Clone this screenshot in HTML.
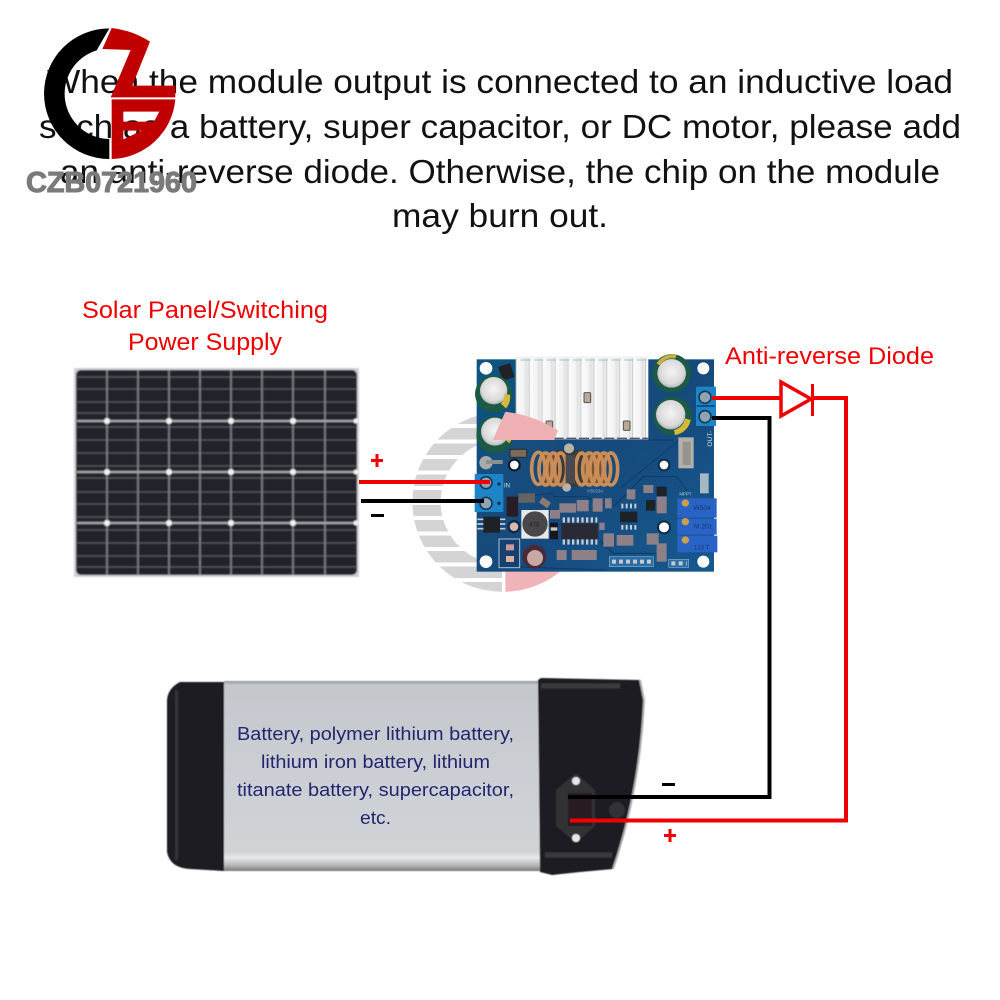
<!DOCTYPE html>
<html>
<head>
<meta charset="utf-8">
<style>
html,body{margin:0;padding:0;background:#fff}
svg{display:block}
text{font-family:"Liberation Sans",sans-serif}
</style>
</head>
<body>
<svg width="1000" height="1000" viewBox="0 0 1000 1000" xmlns="http://www.w3.org/2000/svg">
<defs>
  <filter id="b1" x="-5%" y="-5%" width="110%" height="110%"><feGaussianBlur stdDeviation="0.7"/></filter>
  <filter id="b2" x="-5%" y="-5%" width="110%" height="110%"><feGaussianBlur stdDeviation="0.45"/></filter>
  <linearGradient id="silver" x1="0" y1="0" x2="0" y2="1">
    <stop offset="0" stop-color="#8f9294"/><stop offset=".02" stop-color="#c4c8cd"/>
    <stop offset=".5" stop-color="#cbcfd4"/><stop offset=".9" stop-color="#d0d3d6"/>
    <stop offset=".93" stop-color="#e8e9ea"/><stop offset=".97" stop-color="#b5b7b9"/><stop offset="1" stop-color="#77797b"/>
  </linearGradient>
  <linearGradient id="fin" x1="0" y1="0" x2="1" y2="0">
    <stop offset="0" stop-color="#fbfbfb"/><stop offset=".55" stop-color="#f3f3f4"/>
    <stop offset=".72" stop-color="#e0e1e2"/><stop offset=".9" stop-color="#ebecec"/><stop offset="1" stop-color="#b4b6b8"/>
  </linearGradient>
  <pattern id="fins" x="350" y="0" width="38.8" height="10" patternUnits="userSpaceOnUse">
    <rect width="38.8" height="10" fill="url(#fin)"/>
  </pattern>
  <linearGradient id="pcb" x1="0" y1="0" x2="1" y2="1">
    <stop offset="0" stop-color="#0d5580"/><stop offset=".5" stop-color="#164a7c"/><stop offset="1" stop-color="#13598f"/>
  </linearGradient>
  <radialGradient id="cap" cx=".5" cy=".45" r=".6">
    <stop offset="0" stop-color="#f4f4f4"/><stop offset=".7" stop-color="#d9d9d9"/><stop offset="1" stop-color="#a8a8a8"/>
  </radialGradient>
  <clipPath id="pinkclip"><rect x="484" y="405" width="110" height="35"/></clipPath>
</defs>

<!-- Heading -->
<g font-size="33" fill="#111" text-anchor="start">
  <text x="47" y="93" textLength="906" lengthAdjust="spacingAndGlyphs">When the module output is connected to an inductive load</text>
  <text x="39" y="138" textLength="922" lengthAdjust="spacingAndGlyphs">such as a battery, super capacitor, or DC motor, please add</text>
  <text x="60" y="183" textLength="880" lengthAdjust="spacingAndGlyphs">an anti-reverse diode. Otherwise, the chip on the module</text>
  <text x="392" y="227" textLength="216" lengthAdjust="spacingAndGlyphs">may burn out.</text>
</g>

<!-- Logo -->
<g transform="scale(.33333)">
  <path d="M328 85A196 196 0 0 0 328 477L328 417A136 136 0 0 1 290 151Z" fill="#000"/>
  <path d="M335 84Q395 90 450 125L397 257L526 257L526 292L332 292L392 150L307 147Z" fill="#c00000"/>
  <path fill-rule="evenodd" d="M335 298L526 298A196 196 0 0 1 335 477ZM370 335L478 335L462 365L370 365ZM370 392L425 392L370 418Z" fill="#c00000"/>
</g>
<text x="26" y="192" font-size="29" font-weight="bold" fill="#7a7a7a" stroke="#7a7a7a" stroke-width="1" textLength="171" lengthAdjust="spacing">CZB0721960</text>

<!-- Labels -->
<g font-size="24" fill="#f00000">
  <text x="82" y="318" textLength="246" lengthAdjust="spacingAndGlyphs">Solar Panel/Switching</text>
  <text x="128" y="350" textLength="154" lengthAdjust="spacingAndGlyphs">Power Supply</text>
  <text x="725" y="364" textLength="209" lengthAdjust="spacingAndGlyphs">Anti-reverse Diode</text>
</g>

<!-- Solar panel -->
<g filter="url(#b1)">
  <rect x="74" y="368" width="285" height="209" fill="#cfcfd2"/>
  <rect x="76" y="370" width="281" height="205" rx="5" fill="#20202a"/>
  <g stroke="#5e5e66" stroke-width="1" fill="none">
    <path d="M77 377H356M77 389H356M77 402H356M77 413H356M77 427H356M77 440H356M77 453H356M77 466H356M77 478H356M77 492H356M77 504H356M77 517H356M77 530H356M77 543H356M77 556H356M77 567H356"/>
  </g>
  <g stroke="#85858b" stroke-width="1.6" fill="none">
    <path d="M107 370V575M138 370V575M169 370V575M200 370V575M231 370V575M262 370V575M293 370V575M325 370V575"/>
    <path d="M77 421H356M77 472H356M77 523H356" stroke="#a8a8ad" stroke-width="2"/>
  </g>
  <g fill="#f2f2f2">
    <circle cx="107" cy="421" r="3"/><circle cx="169" cy="421" r="3"/><circle cx="231" cy="421" r="3"/><circle cx="293" cy="421" r="3"/><circle cx="356" cy="421" r="2.5"/>
    <circle cx="107" cy="472" r="3"/><circle cx="169" cy="472" r="3"/><circle cx="231" cy="472" r="3"/><circle cx="293" cy="472" r="3"/><circle cx="356" cy="472" r="2.5"/>
    <circle cx="107" cy="523" r="3"/><circle cx="169" cy="523" r="3"/><circle cx="231" cy="523" r="3"/><circle cx="293" cy="523" r="3"/><circle cx="356" cy="523" r="2.5"/>
  </g>
</g>

<!-- Watermark behind board -->
<g transform="translate(351.9 373.3) scale(.458)">
  <path d="M328 85A196 196 0 0 0 328 477L328 417A136 136 0 0 1 290 151Z" fill="#d4d4d4"/>
</g>
<g stroke="#fff" stroke-width="4">
  <path d="M400 426H505M400 441.500H505M400 457H505M400 472.500H505M400 488H505M400 503H505M400 518H505M400 533.500H505M400 549H505M400 564.500H505M400 580H505"/>
</g>
<g transform="translate(351.9 373.3) scale(.458)" fill="#f0b4b8">
  <path d="M335 84Q395 90 450 125L397 257L526 257L526 292L332 292L392 150L307 147Z"/>
  <path fill-rule="evenodd" d="M335 298L526 298A196 196 0 0 1 335 477ZM370 335L478 335L462 365L370 365ZM370 392L425 392L370 418Z"/>
</g>

<!-- Board drawn in zoom coordinates -->
<g transform="translate(400 340) scale(.33333)" filter="url(#b2)">
  <rect x="230" y="58" width="712" height="637" fill="url(#pcb)"/>
  <g stroke="#0c3a66" stroke-width="3" fill="none">
    <path d="M660 445L850 290M745 300L820 300M640 500L730 410L830 410L860 450M600 600L640 640L780 640M460 470L560 470L620 500"/>
    <path d="M320 520L350 470L460 460M330 680L620 690"/>
  </g>
  <!-- holes -->
  <circle cx="258" cy="85" r="19" fill="#fff"/><circle cx="910" cy="85" r="18" fill="#fff"/>
  <circle cx="258" cy="665" r="19" fill="#fff"/><circle cx="910" cy="665" r="18" fill="#fff"/>
  <circle cx="343" cy="375" r="19" fill="#101522"/><circle cx="343" cy="375" r="13" fill="#fff"/>
  <circle cx="792" cy="375" r="19" fill="#102a4a"/><circle cx="792" cy="375" r="13" fill="#fff"/>
  <circle cx="792" cy="562" r="21" fill="#102a4a"/><circle cx="792" cy="562" r="15" fill="#fff"/>
  <!-- heatsink -->
  <rect x="347" y="50" width="398" height="248" fill="url(#fins)"/>
  <rect x="347" y="50" width="398" height="5" fill="#eef0f2"/>
  <path d="M362 60H392M402 60H430M440 60H468M478 60H508M518 60H546M556 60H585M595 60H624M634 60H662M672 60H700M710 60H740" stroke="#a4c0cd" stroke-width="3"/>
  <path d="M347 295H745" stroke="#55585e" stroke-width="4" stroke-dasharray="30 8"/>
  <g fill="#b8a89a" stroke="#5a5048" stroke-width="3">
    <rect x="552" y="158" width="20" height="30" rx="3"/><rect x="438" y="243" width="20" height="28" rx="3"/><rect x="670" y="243" width="20" height="28" rx="3"/>
  </g>
  <!-- small diode top-left -->
  <rect x="300" y="74" width="38" height="44" fill="#222428" transform="rotate(-18 319 96)"/>
  <!-- capacitors -->
  <circle cx="281" cy="162" r="56" fill="#1b5a46"/><circle cx="281" cy="152" r="41" fill="url(#cap)"/>
  <path d="M330 165A52 52 0 0 1 318 205L302 190A35 35 0 0 0 313 160Z" fill="#d8b83a"/>
  <circle cx="285" cy="285" r="56" fill="#1b5a46"/><circle cx="285" cy="275" r="42" fill="url(#cap)"/>
  <path d="M336 268A52 52 0 0 1 328 310L312 295A35 35 0 0 0 320 262Z" fill="#d8b83a"/>
  <circle cx="815" cy="100" r="58" fill="#1b5a46"/><circle cx="815" cy="100" r="43" fill="url(#cap)"/>
  <path d="M770 70A55 55 0 0 1 830 44L826 56A42 42 0 0 0 780 76Z" fill="#c8b040"/>
  <circle cx="818" cy="228" r="58" fill="#1b5a46"/><circle cx="812" cy="224" r="44" fill="url(#cap)"/>
  <path d="M872 240A56 56 0 0 1 825 285L822 270A42 42 0 0 0 855 235Z" fill="#d8b83a"/>
  <!-- output terminal -->
  <rect x="888" y="140" width="60" height="118" fill="#1f85c7"/>
  <rect x="890" y="195" width="54" height="6" fill="#0e4f86"/>
  <circle cx="915" cy="172" r="18" fill="#8fa3b0" stroke="#123a5a" stroke-width="5"/>
  <circle cx="915" cy="230" r="18" fill="#8fa3b0" stroke="#123a5a" stroke-width="5"/>
  <text x="0" y="0" font-size="20" fill="#cfe0ee" transform="translate(936 320) rotate(-90)">OUT-</text>
  <!-- silver part -->
  <rect x="835" y="292" width="46" height="93" fill="#b3b0aa"/><rect x="848" y="305" width="24" height="70" fill="#95938e"/>
  <!-- pad + bolt left -->
  <rect x="330" y="328" width="50" height="24" fill="#7b6a58" stroke="#2a2a30" stroke-width="3"/>
  <circle cx="258" cy="368" r="20" fill="#a8aaa8"/><rect x="258" y="360" width="50" height="12" fill="#8d8f8d"/>
  <!-- inductor -->
  <rect x="430" y="345" width="190" height="85" fill="#7a5230"/>
  <rect x="470" y="330" width="80" height="110" fill="#3a3a3e"/>
  <circle cx="507" cy="325" r="15" fill="#b8b4aa"/><circle cx="500" cy="442" r="13" fill="#b8b4aa"/>
  <g fill="none" stroke="#c98d58" stroke-width="11">
    <ellipse cx="415" cy="385" rx="20" ry="48"/><ellipse cx="437" cy="387" rx="20" ry="48"/><ellipse cx="460" cy="387" rx="20" ry="48"/><ellipse cx="482" cy="387" rx="18" ry="48"/>
    <ellipse cx="545" cy="387" rx="18" ry="48"/><ellipse cx="568" cy="387" rx="20" ry="48"/><ellipse cx="590" cy="387" rx="20" ry="48"/><ellipse cx="612" cy="387" rx="20" ry="48"/><ellipse cx="633" cy="387" rx="20" ry="48"/>
  </g>
  <rect x="497" y="345" width="28" height="85" fill="#4a4a50"/>
  <!-- input terminal -->
  <rect x="224" y="402" width="86" height="114" fill="#1f85c7"/>
  <circle cx="258" cy="428" r="18" fill="#8fa3b0" stroke="#123a5a" stroke-width="5"/>
  <circle cx="258" cy="490" r="18" fill="#8fa3b0" stroke="#123a5a" stroke-width="5"/>
  <circle cx="297" cy="432" r="5" fill="#0a2a4a"/><circle cx="297" cy="490" r="5" fill="#0a2a4a"/>
  <text x="312" y="442" font-size="18" fill="#dbe6ef" font-family="Liberation Serif">IN</text>
  <!-- left lower parts -->
  <rect x="320" y="470" width="34" height="60" fill="#2a1d28"/>
  <rect x="355" y="460" width="50" height="28" fill="#7a6a5e" opacity=".8"/>
  <rect x="420" y="478" width="30" height="20" fill="#8a7a70" transform="rotate(35 435 488)"/>
  <rect x="250" y="530" width="50" height="48" fill="#1c2026"/>
  <path d="M232 538H250M232 552H250M232 566H250M300 538H316M300 552H316M300 566H316" stroke="#c8c8c8" stroke-width="5"/>
  <circle cx="342" cy="560" r="20" fill="#102a4a"/><circle cx="342" cy="560" r="13" fill="#d9b8b0"/>
  <rect x="297" y="597" width="62" height="86" fill="#143f70" stroke="#a9c3d8" stroke-width="3"/>
  <rect x="318" y="613" width="24" height="18" fill="#c99"/><rect x="318" y="648" width="24" height="18" fill="#d8b0a0"/>
  <!-- power inductor -->
  <rect x="364" y="510" width="82" height="86" fill="#e8e8e8"/>
  <circle cx="405" cy="552" r="38" fill="#4a4648"/>
  <text x="388" y="560" font-size="18" fill="#222">470</text>
  <circle cx="403" cy="650" r="36" fill="#4a2b3c"/><circle cx="405" cy="654" r="24" fill="#c9a8a4"/>
  <rect x="450" y="548" width="24" height="50" fill="#15181f"/><rect x="452" y="562" width="20" height="10" fill="#c9c9c9"/>
  <!-- misc SMD -->
  <g fill="#8d8088">
    <rect x="450" y="510" width="30" height="26"/><rect x="478" y="490" width="50" height="28"/><rect x="530" y="480" width="36" height="34"/>
    <rect x="578" y="475" width="30" height="40"/><rect x="615" y="475" width="20" height="30"/><rect x="680" y="448" width="26" height="30"/>
    <rect x="730" y="435" width="30" height="24"/><rect x="770" y="470" width="30" height="50"/><rect x="610" y="580" width="32" height="40"/>
    <rect x="650" y="585" width="50" height="32"/><rect x="740" y="580" width="36" height="34"/><rect x="770" y="610" width="30" height="55"/>
    <rect x="470" y="630" width="30" height="30"/><rect x="515" y="630" width="75" height="30"/><rect x="598" y="548" width="16" height="22"/>
  </g>
  <!-- main ICs -->
  <rect x="484" y="550" width="110" height="48" fill="#2b2c34"/>
  <path d="M488 540H592M488 606H592" stroke="#c9c9d0" stroke-width="16" stroke-dasharray="7 7"/>
  <rect x="660" y="515" width="52" height="32" fill="#1d2028"/>
  <path d="M664 498H712M664 562H712" stroke="#c9c9d0" stroke-width="14" stroke-dasharray="6 7"/>
  <rect x="738" y="480" width="28" height="32" fill="#1d2028"/>
  <rect x="770" y="440" width="30" height="28" fill="#1d2028"/>
  <rect x="900" y="400" width="26" height="60" fill="#a6b8c4"/>
  <text x="838" y="467" font-size="13" fill="#bcd0e0">MPPT</text>
  <text x="560" y="458" font-size="13" fill="#99b0c8">YI5033A</text>
  <!-- trimmers -->
  <rect x="832" y="475" width="118" height="58" fill="#2c63c6"/>
  <rect x="832" y="536" width="118" height="48" fill="#2c63c6"/>
  <rect x="832" y="587" width="120" height="50" fill="#2c63c6"/>
  <circle cx="856" cy="489" r="11" fill="#c9a050"/><circle cx="856" cy="545" r="11" fill="#c9a050"/><circle cx="856" cy="600" r="11" fill="#c9a050"/>
  <text x="880" y="510" font-size="20" fill="#16356f">W504</text>
  <text x="882" y="566" font-size="20" fill="#16356f">M 201</text>
  <text x="882" y="628" font-size="18" fill="#16356f">123 T</text>
  <!-- header -->
  <rect x="628" y="650" width="132" height="30" fill="#2a6ea8" stroke="#88aac8" stroke-width="2"/>
  <path d="M636 665H754" stroke="#c9c9c9" stroke-width="12" stroke-dasharray="12 9"/>
  <rect x="806" y="658" width="60" height="24" fill="#2a6ea8" stroke="#88aac8" stroke-width="2"/>
  <path d="M814 670H860" stroke="#c9c9c9" stroke-width="12" stroke-dasharray="12 10"/>
</g>

<!-- Watermark pink overlay across heatsink only -->
<g clip-path="url(#pinkclip)">
  <g transform="translate(351.9 373.3) scale(.458)" style="mix-blend-mode:multiply" fill="#eeb0b4">
    <path d="M335 84Q395 90 450 125L397 257L526 257L526 292L332 292L392 150L307 147Z"/>
  </g>
</g>

<!-- Battery -->
<g filter="url(#b2)">
  <path d="M224 682L180 682Q168 688 167 700L167 852Q170 868 190 869L224 871Z" fill="#1d1e21"/>
  <rect x="175" y="690" width="3" height="170" fill="#333437"/>
  <rect x="224" y="681" width="316" height="190" fill="url(#silver)"/>
  <path d="M538 680L541 678L640 680L644 700Q640 790 613 869L580 872L552 875L540 872Z" fill="#1a1b22"/>
  <path d="M640 680L644 700Q640 790 613 869" fill="none" stroke="#b0b0b0" stroke-width="2"/>
  <path d="M541 686H620M545 855H612" stroke="#3a3a3e" stroke-width="5"/>
  <path d="M576 773L595 790L595 826L576 843L556 826L556 790Z" fill="#313136"/>
  <rect x="568" y="793" width="24" height="33" fill="#281c22"/>
  <circle cx="576" cy="781" r="4" fill="#e8e8e8"/><circle cx="576" cy="838" r="4" fill="#e8e8e8"/>
  <circle cx="617" cy="810" r="8" fill="#333338"/>
</g>
<g font-size="18" fill="#23256f">
  <text x="237" y="740" textLength="277" lengthAdjust="spacingAndGlyphs">Battery, polymer lithium battery,</text>
  <text x="261" y="768" textLength="229" lengthAdjust="spacingAndGlyphs">lithium iron battery, lithium</text>
  <text x="237" y="796" textLength="277" lengthAdjust="spacingAndGlyphs">titanate battery, supercapacitor,</text>
  <text x="360" y="824" textLength="31" lengthAdjust="spacingAndGlyphs">etc.</text>
</g>

<!-- Wires -->
<g fill="none" stroke-width="4">
  <path d="M359 482H490" stroke="#f00000"/>
  <path d="M361 501H484" stroke="#000"/>
  <path d="M712 398H781" stroke="#f00000"/>
  <path d="M712 418H769.500V797H568" stroke="#000"/>
  <path d="M812 398H846V820.500H570" stroke="#f00000"/>
  <path d="M781 382V416L811 399Z" stroke="#f00000" stroke-width="3.500" stroke-linejoin="miter"/>
  <path d="M812.500 384V416" stroke="#f00000" stroke-width="3"/>
</g>

<!-- Polarity marks -->
<g fill="#f00000">
  <path d="M371 459H383V462H371ZM375.500 454H378.500V467H375.500Z"/>
  <path d="M664 834H676V837H664ZM668.500 829H671.500V842H668.500Z"/>
</g>
<g fill="#000">
  <rect x="371" y="514" width="13" height="3"/>
  <rect x="662" y="783" width="13" height="3"/>
</g>
</svg>
</body>
</html>
